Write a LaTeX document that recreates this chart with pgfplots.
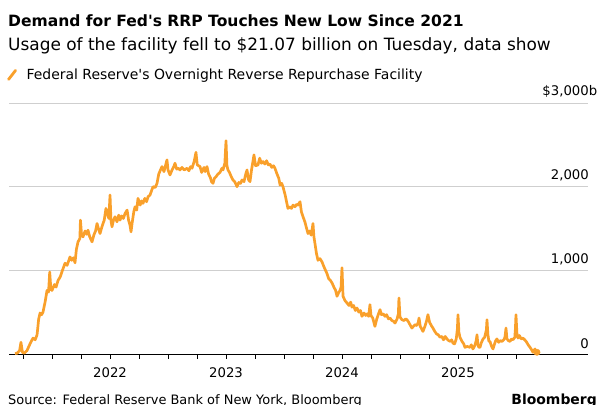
\documentclass[border=0pt]{standalone}
\usepackage{fontspec}
\setmainfont[Ligatures=TeXOff]{DejaVu Sans}
\usepackage{pgfplots}
\pgfplotsset{compat=1.18}
\definecolor{bbo}{HTML}{F9A02B}
\definecolor{gridc}{HTML}{CFCFCF}
\begin{document}
\begin{tikzpicture}
\path[use as bounding box] (0,0) rectangle (599bp,405bp);
\node[anchor=base west, inner sep=0pt, font=\bfseries\fontsize{15.6}{18}\selectfont] at (8bp,378bp) {Demand for Fed's RRP Touches New Low Since 2021};
\node[anchor=base west, inner sep=0pt, font=\fontsize{17}{20}\selectfont] at (8bp,354bp) {Usage of the facility fell to \$21.07 billion on Tuesday, data show};
\begin{axis}[
  at={(9bp,51bp)}, anchor=south west, scale only axis,
  width=579bp, height=251bp,
  xmin=2021.129, xmax=2026.121, ymin=0, ymax=3000,
  axis x line=bottom, axis y line=right,
  x axis line style={-, black, line width=0.8pt},
  y axis line style={draw=none},
  ytick={0,1000,2000,3000},
  yticklabels={0,{1,000},{2,000},{\$3,000\rlap{b}}},
  ytick style={draw=none},
  yticklabel style={anchor=south east, inner sep=0pt, xshift=-4bp, yshift=5bp, font=\fontsize{13.3}{15}\selectfont},
  ymajorgrids, grid style={gridc, line width=0.7pt},
  xtick={2022,2023,2024,2025},
  xticklabels={2022,2023,2024,2025},
  minor xtick={2021.25,2021.5,2021.75,2022.25,2022.5,2022.75,2023.25,2023.5,2023.75,2024.25,2024.5,2024.75,2025.25,2025.5},
  tick align=outside, major tick length=5bp, minor tick length=5bp,
  xtick style={black, line width=0.6pt},
  minor x tick style={black, line width=0.6pt},
  xticklabel style={font=\fontsize{13.3}{15}\selectfont, inner sep=0pt, anchor=north, yshift=-8bp},
  clip=false,
  legend style={draw=none, fill=none, at={(-0.0035,1.112)}, anchor=west, inner sep=0pt,
    font=\fontsize{14}{16}\selectfont, legend cell align=left},
  legend image code/.code={\draw[line width=2.8pt, line cap=round, bbo] (1bp,-4.5bp) -- (8bp,4.5bp); \path[draw=none] (0bp,0bp) -- (17bp,0bp);},
]
\addplot[bbo, line width=2.7pt, line join=round] coordinates {
(2021.181,5) (2021.200,10) (2021.220,40) (2021.232,140) (2021.245,20) (2021.26,10) (2021.284,40) (2021.30,90) (2021.32,150) (2021.336,190) (2021.355,170) (2021.371,230) (2021.385,420) (2021.397,490) (2021.41,470) (2021.422,500) (2021.44,620) (2021.457,760) (2021.47,740) (2021.48,980) (2021.49,770) (2021.500,760) (2021.52,830) (2021.535,800) (2021.552,880) (2021.57,920) (2021.59,1000) (2021.612,1085) (2021.63,1060) (2021.655,1160) (2021.67,1120) (2021.685,1150) (2021.698,1090) (2021.71,1250) (2021.724,1340) (2021.74,1380) (2021.745,1600) (2021.755,1420) (2021.767,1400) (2021.785,1470) (2021.800,1430) (2021.810,1480) (2021.825,1400) (2021.845,1340) (2021.86,1420) (2021.875,1470) (2021.888,1560) (2021.90,1500) (2021.914,1440) (2021.93,1520) (2021.95,1600) (2021.965,1740) (2021.975,1680) (2021.99,1620) (2022.000,1900) (2022.008,1600) (2022.017,1520) (2022.03,1600) (2022.043,1640) (2022.06,1580) (2022.075,1660) (2022.086,1600) (2022.10,1650) (2022.115,1620) (2022.13,1680) (2022.147,1720) (2022.16,1600) (2022.172,1540) (2022.181,1460) (2022.19,1560) (2022.205,1700) (2022.216,1760) (2022.23,1720) (2022.241,1860) (2022.26,1780) (2022.272,1830) (2022.284,1800) (2022.30,1860) (2022.315,1820) (2022.328,1880) (2022.345,1900) (2022.36,1960) (2022.371,2000) (2022.39,1990) (2022.405,2040) (2022.42,2150) (2022.435,2200) (2022.448,2240) (2022.465,2180) (2022.48,2260) (2022.491,2320) (2022.50,2200) (2022.517,2140) (2022.535,2200) (2022.55,2240) (2022.560,2280) (2022.575,2210) (2022.59,2220) (2022.603,2200) (2022.62,2230) (2022.64,2200) (2022.664,2220) (2022.68,2190) (2022.695,2240) (2022.707,2220) (2022.725,2300) (2022.741,2410) (2022.752,2260) (2022.776,2240) (2022.79,2170) (2022.81,2230) (2022.82,2180) (2022.836,2240) (2022.85,2150) (2022.865,2110) (2022.875,2060) (2022.888,2040) (2022.90,2100) (2022.915,2120) (2022.93,2150) (2022.948,2170) (2022.965,2220) (2022.974,2200) (2022.99,2280) (2023.000,2550) (2023.008,2250) (2023.017,2200) (2023.03,2170) (2023.045,2120) (2023.060,2080) (2023.075,2060) (2023.085,2030) (2023.095,2000) (2023.11,2050) (2023.125,2040) (2023.138,2080) (2023.155,2060) (2023.17,2150) (2023.181,2200) (2023.195,2080) (2023.207,2060) (2023.22,2200) (2023.232,2300) (2023.241,2380) (2023.255,2250) (2023.276,2260) (2023.29,2340) (2023.305,2280) (2023.319,2300) (2023.335,2270) (2023.35,2310) (2023.365,2260) (2023.379,2270) (2023.395,2230) (2023.41,2250) (2023.422,2220) (2023.44,2150) (2023.455,2100) (2023.466,2020) (2023.48,2040) (2023.491,2000) (2023.51,1900) (2023.525,1800) (2023.534,1740) (2023.55,1760) (2023.565,1740) (2023.578,1780) (2023.595,1760) (2023.61,1790) (2023.621,1780) (2023.638,1820) (2023.65,1700) (2023.664,1640) (2023.68,1580) (2023.695,1500) (2023.707,1440) (2023.72,1470) (2023.735,1420) (2023.750,1560) (2023.758,1400) (2023.767,1320) (2023.78,1200) (2023.793,1120) (2023.81,1140) (2023.828,1100) (2023.845,1040) (2023.858,1000) (2023.871,960) (2023.885,900) (2023.9,880) (2023.914,850) (2023.93,800) (2023.945,760) (2023.957,690) (2023.97,730) (2023.983,760) (2023.992,800) (2024.000,1030) (2024.009,690) (2024.025,640) (2024.043,610) (2024.06,580) (2024.075,620) (2024.086,560) (2024.1,580) (2024.115,520) (2024.129,550) (2024.145,500) (2024.16,520) (2024.172,450) (2024.19,490) (2024.205,460) (2024.216,480) (2024.23,450) (2024.241,590) (2024.25,460) (2024.265,430) (2024.284,330) (2024.30,420) (2024.315,480) (2024.328,530) (2024.34,470) (2024.355,480) (2024.371,450) (2024.385,470) (2024.40,420) (2024.414,430) (2024.43,400) (2024.445,390) (2024.457,370) (2024.475,420) (2024.486,480) (2024.491,670) (2024.50,440) (2024.517,410) (2024.535,400) (2024.55,420) (2024.560,410) (2024.575,380) (2024.59,340) (2024.603,310) (2024.615,330) (2024.629,350) (2024.645,340) (2024.658,380) (2024.664,430) (2024.675,330) (2024.698,270) (2024.715,330) (2024.73,400) (2024.741,470) (2024.755,380) (2024.77,340) (2024.784,310) (2024.80,270) (2024.815,240) (2024.83,230) (2024.845,200) (2024.86,210) (2024.875,170) (2024.89,210) (2024.905,180) (2024.92,160) (2024.935,150) (2024.945,170) (2024.957,130) (2024.97,120) (2024.985,180) (2024.995,300) (2025.000,470) (2025.008,260) (2025.017,200) (2025.035,150) (2025.050,120) (2025.060,80) (2025.08,90) (2025.103,80) (2025.115,110) (2025.129,60) (2025.145,100) (2025.157,160) (2025.164,230) (2025.172,110) (2025.180,80) (2025.190,80) (2025.20,130) (2025.216,180) (2025.23,200) (2025.245,290) (2025.250,410) (2025.258,230) (2025.267,150) (2025.276,150) (2025.29,90) (2025.302,60) (2025.315,120) (2025.325,160) (2025.336,180) (2025.35,140) (2025.365,160) (2025.379,150) (2025.395,170) (2025.405,200) (2025.414,310) (2025.422,180) (2025.435,160) (2025.448,150) (2025.462,180) (2025.474,170) (2025.49,200) (2025.495,300) (2025.500,470) (2025.508,250) (2025.517,190) (2025.53,220) (2025.545,180) (2025.560,190) (2025.575,170) (2025.588,150) (2025.605,110) (2025.621,80) (2025.635,50) (2025.647,20) (2025.655,40) (2025.664,60) (2025.672,30) (2025.681,21)
};
\addlegendentry{Federal Reserve's Overnight Reverse Repurchase Facility}
\addplot[bbo, only marks, mark=*, mark size=3.2bp, forget plot] coordinates {(2025.681,21)};
\end{axis}
\node[anchor=base west, inner sep=0pt, font=\fontsize{13}{15}\selectfont] at (8bp,1bp) {Source: Federal Reserve Bank of New York, Bloomberg};
\node[anchor=base east, inner sep=0pt, font=\bfseries\fontsize{14}{16}\selectfont] at (597bp,1bp) {Bloomberg};
\end{tikzpicture}
\end{document}
